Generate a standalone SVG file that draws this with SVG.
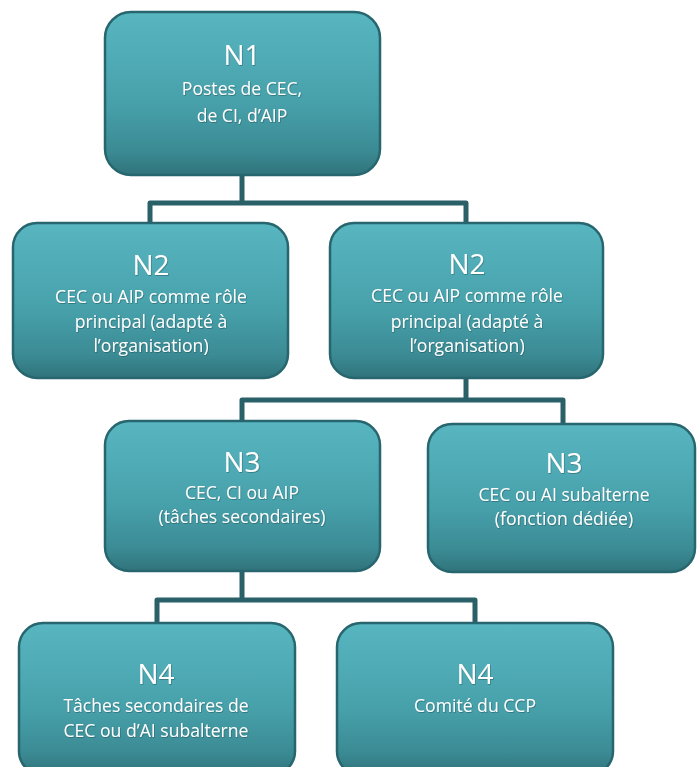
<svg xmlns="http://www.w3.org/2000/svg" width="697" height="767" viewBox="0 0 697 767">
  <defs>
    <linearGradient id="boxFill" x1="0" y1="0" x2="0" y2="1">
      <stop offset="0" stop-color="#58b6c1"/>
      <stop offset="0.55" stop-color="#47a1ab"/>
      <stop offset="0.85" stop-color="#3b8b94"/>
      <stop offset="1" stop-color="#30737b"/>
    </linearGradient>
    <filter id="textShadow" x="-10%" y="-20%" width="120%" height="150%">
      <feDropShadow dx="0.6" dy="0.8" stdDeviation="0.6" flood-color="#0d3a40" flood-opacity="0.5"/>
    </filter>
  </defs>
  <style>
    .box { fill: url(#boxFill); stroke: #27666e; stroke-width: 2.5; }
    .title { font-family: "Open Sans", "Noto Sans", sans-serif; font-size: 28px; fill: #ffffff; text-anchor: middle; }
    .body { font-family: "Open Sans", "Noto Sans", sans-serif; font-size: 17.6px; fill: #ffffff; text-anchor: middle; }
    .label { filter: url(#textShadow); }
    .link { fill: none; stroke: #2a6169; stroke-width: 5; stroke-linejoin: round; stroke-linecap: round; }
  </style>

  <!-- connectors -->
  <g id="connectors">
    <path class="link" d="M242 175 V203 H150 V224 M242 203 H466 V224"/>
    <path class="link" d="M466 378 V400 H242 V421 M466 400 H563 V424"/>
    <path class="link" d="M242 571 V600 H157 V623 M242 600 H475 V623"/>
  </g>

  <g id="n1">
    <rect class="box" x="105" y="12" width="275" height="163" rx="26"/>
    <g class="label">
      <text class="title" x="242" y="65">N1</text>
      <text class="body" x="242" y="95">Postes de CEC,</text>
      <text class="body" x="242" y="122">de CI, d’AIP</text>
    </g>
  </g>

  <g id="n2-left">
    <rect class="box" x="13" y="223" width="275" height="155" rx="24"/>
    <g class="label">
      <text class="title" x="151" y="275">N2</text>
      <text class="body" x="151" y="303">CEC ou AIP comme rôle</text>
      <text class="body" x="151" y="328">principal (adapté à</text>
      <text class="body" x="151" y="352">l’organisation)</text>
    </g>
  </g>

  <g id="n2-right">
    <rect class="box" x="330" y="223" width="273" height="155" rx="24"/>
    <g class="label">
      <text class="title" x="467" y="274">N2</text>
      <text class="body" x="467" y="302">CEC ou AIP comme rôle</text>
      <text class="body" x="467" y="328">principal (adapté à</text>
      <text class="body" x="467" y="352">l’organisation)</text>
    </g>
  </g>

  <g id="n3-left">
    <rect class="box" x="105" y="421" width="275" height="150" rx="24"/>
    <g class="label">
      <text class="title" x="242" y="472">N3</text>
      <text class="body" x="242" y="499">CEC, CI ou AIP</text>
      <text class="body" x="242" y="523">(tâches secondaires)</text>
    </g>
  </g>

  <g id="n3-right">
    <rect class="box" x="428" y="424" width="267" height="148" rx="24"/>
    <g class="label">
      <text class="title" x="564" y="473">N3</text>
      <text class="body" x="564" y="501">CEC ou AI subalterne</text>
      <text class="body" x="564" y="525">(fonction dédiée)</text>
    </g>
  </g>

  <g id="n4-left">
    <rect class="box" x="19" y="623" width="276" height="152" rx="24"/>
    <g class="label">
      <text class="title" x="156" y="684">N4</text>
      <text class="body" x="156" y="712">Tâches secondaires de</text>
      <text class="body" x="156" y="737">CEC ou d’AI subalterne</text>
    </g>
  </g>

  <g id="n4-right">
    <rect class="box" x="337" y="623" width="276" height="152" rx="24"/>
    <g class="label">
      <text class="title" x="475" y="684">N4</text>
      <text class="body" x="475" y="712">Comité du CCP</text>
    </g>
  </g>
</svg>
